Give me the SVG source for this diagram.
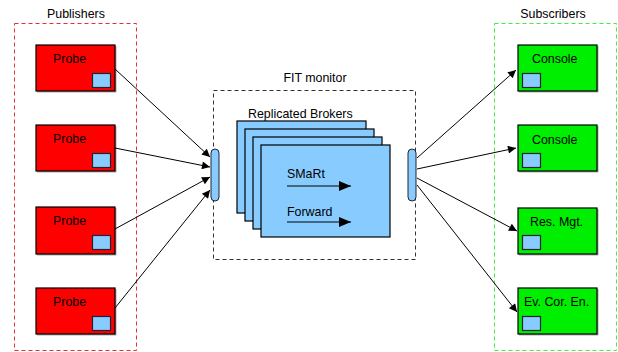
<svg xmlns="http://www.w3.org/2000/svg" width="618" height="352" viewBox="0 0 618 352">
<style>
text{font-family:"Liberation Sans",Arial,sans-serif;font-size:12.4px;fill:#000}
.pub{fill:#ff0000;stroke:#000;stroke-width:1.2}
.sub{fill:#00ee00;stroke:#000;stroke-width:1.2}
.sh{fill:#aaa}
.port{fill:#88ccff;stroke:#223;stroke-width:1.2}
.brk{fill:#88ccff;stroke:#000;stroke-width:1.2}
.conn{stroke:#000;stroke-width:1;fill:none;marker-end:url(#ah)}
</style>
<defs>
<marker id="ah" viewBox="0 0 10 10" refX="10" refY="5" markerWidth="10" markerHeight="8" markerUnits="userSpaceOnUse" orient="auto">
<path d="M0,0 L10,5 L0,10 z" fill="#000"/>
</marker>
<marker id="ah2" viewBox="0 0 12 10" refX="12" refY="5" markerWidth="13" markerHeight="10" markerUnits="userSpaceOnUse" orient="auto">
<path d="M0,0 L12,5 L0,10 z" fill="#000"/>
</marker>
</defs>
<rect width="618" height="352" fill="#fff"/>

<g id="publishers">
<rect x="14.5" y="23.5" width="122" height="327" fill="none" stroke="#e83030" stroke-dasharray="4,3"/>
<text x="76" y="18" text-anchor="middle" fill="#222">Publishers</text>
</g>
<g id="subscribers">
<rect x="494.5" y="23.5" width="122" height="327" fill="none" stroke="#40ee40" stroke-dasharray="4,3"/>
<text x="553" y="18" text-anchor="middle" fill="#222">Subscribers</text>
</g>
<g id="fit-monitor">
<rect x="213.5" y="90.5" width="202" height="169" fill="none" stroke="#333" stroke-dasharray="4,3"/>
<text x="315" y="82" text-anchor="middle" fill="#222">FIT monitor</text>
</g>

<g id="probe1">
<rect class="sh" x="37" y="46" width="79.5" height="46.5"/>
<rect class="pub" x="36" y="45" width="79" height="46"/>
<text x="53" y="63">Probe</text>
<rect class="port" x="92.5" y="73.5" width="18" height="14"/>
</g>
<g id="probe2">
<rect class="sh" x="37" y="126" width="79.5" height="46.5"/>
<rect class="pub" x="36" y="125" width="79" height="46"/>
<text x="53" y="143">Probe</text>
<rect class="port" x="92.5" y="153.5" width="18" height="14"/>
</g>
<g id="probe3">
<rect class="sh" x="37" y="208" width="79.5" height="47.5"/>
<rect class="pub" x="36" y="207" width="79" height="47"/>
<text x="53" y="225">Probe</text>
<rect class="port" x="92.5" y="235.5" width="18" height="14"/>
</g>
<g id="probe4">
<rect class="sh" x="37" y="289" width="79.5" height="46.5"/>
<rect class="pub" x="36" y="288" width="79" height="46"/>
<text x="53" y="306">Probe</text>
<rect class="port" x="92.5" y="316.5" width="18" height="14"/>
</g>

<g id="console1">
<rect class="sh" x="519" y="46" width="79.5" height="46.5"/>
<rect class="sub" x="518" y="45" width="79" height="46"/>
<text x="532" y="63">Console</text>
<rect class="port" x="522.5" y="73.5" width="18" height="14"/>
</g>
<g id="console2">
<rect class="sh" x="519" y="126" width="79.5" height="46.5"/>
<rect class="sub" x="518" y="125" width="79" height="46"/>
<text x="532" y="144">Console</text>
<rect class="port" x="522.5" y="153.5" width="18" height="14"/>
</g>
<g id="resmgt">
<rect class="sh" x="519" y="209" width="79.5" height="46.5"/>
<rect class="sub" x="518" y="208" width="79" height="46"/>
<text x="530" y="226">Res. Mgt.</text>
<rect class="port" x="522.5" y="235.5" width="18" height="14"/>
</g>
<g id="evcoren">
<rect class="sh" x="519" y="289" width="79.5" height="46.5"/>
<rect class="sub" x="518" y="288" width="79" height="46"/>
<text x="524" y="306">Ev. Cor. En.</text>
<rect class="port" x="522.5" y="316.5" width="18" height="14"/>
</g>

<g id="brokers">
<text x="248" y="118" fill="#222">Replicated Brokers</text>
<rect class="brk" x="237" y="121" width="129" height="92"/>
<rect class="brk" x="245" y="129" width="129" height="92"/>
<rect class="brk" x="253" y="137" width="129" height="92"/>
<rect class="brk" x="261" y="145" width="129" height="92"/>
<text x="287" y="178">SMaRt</text>
<line x1="287" y1="186" x2="351" y2="186" stroke="#000" stroke-width="1.2" marker-end="url(#ah2)"/>
<text x="287" y="216">Forward</text>
<line x1="287" y1="222" x2="351" y2="222" stroke="#000" stroke-width="1.2" marker-end="url(#ah2)"/>
</g>

<g id="in-port">
<rect x="211" y="149" width="8" height="52" rx="4" fill="#88ccff" stroke="#223" stroke-width="1"/>
</g>
<g id="out-port">
<rect x="408" y="149" width="8" height="52" rx="4" fill="#88ccff" stroke="#223" stroke-width="1"/>
</g>

<g id="connectors">
<line class="conn" x1="115" y1="69" x2="210" y2="157"/>
<line class="conn" x1="115" y1="148" x2="210" y2="167"/>
<line class="conn" x1="115" y1="229" x2="210" y2="177"/>
<line class="conn" x1="115" y1="308" x2="210" y2="190"/>
<line class="conn" x1="417" y1="158" x2="516" y2="70"/>
<line class="conn" x1="417" y1="169" x2="516" y2="148"/>
<line class="conn" x1="417" y1="178" x2="517" y2="231"/>
<line class="conn" x1="417" y1="185" x2="517" y2="312"/>
</g>
</svg>
